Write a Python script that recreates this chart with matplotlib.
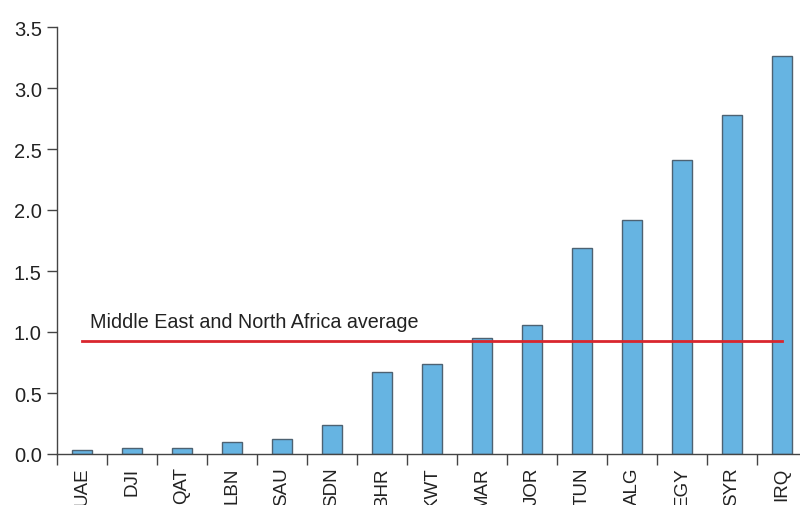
import matplotlib
matplotlib.use("Agg")
import matplotlib.pyplot as plt
import numpy as np

plt.rcParams['font.family'] = ['Liberation Sans', 'DejaVu Sans']

countries = ["UAE", "DJI", "QAT", "LBN", "SAU", "SDN", "BHR", "KWT",
             "MAR", "JOR", "TUN", "ALG", "EGY", "SYR", "IRQ"]
values = [0.03, 0.05, 0.05, 0.10, 0.12, 0.24, 0.67, 0.74,
          0.95, 1.06, 1.69, 1.92, 2.41, 2.78, 3.26]
average = 0.93
avg_label = "Middle East and North Africa average"
yticks = [0.0, 0.5, 1.0, 1.5, 2.0, 2.5, 3.0, 3.5]

fig = plt.figure(figsize=(8, 5.06), dpi=100)
ax = fig.add_axes([57/800, 51/506, 750/800, 427/506])

x = np.arange(len(countries))
ax.bar(x, values, width=0.4, color="#66b4e2", edgecolor="#4d6272", linewidth=1.0, zorder=2)
ax.plot([0.0, 14.0], [average, average], color="#d9262e", lw=2.0, zorder=3)
ax.text(0.15, average + 0.08, avg_label, fontsize=14.2, ha="left", va="bottom", color="#222222")

ax.set_xlim(-0.5, 14.5)
ax.set_ylim(0, 3.5)
ax.set_yticks(yticks)
ax.set_yticklabels([f"{v:.1f}" for v in yticks], fontsize=14.5, color="#222222")

# category boundary ticks
ax.set_xticks(np.arange(-0.5, 15, 1.0))
ax.set_xticklabels([])
ax.set_xticks(x, minor=True)
ax.set_xticklabels(countries, minor=True, rotation=90, fontsize=13.5, color="#222222", va="top", ha="center")
ax.tick_params(axis="x", which="minor", length=0, pad=9)
ax.tick_params(axis="x", which="major", length=8, width=1, color="#444444", direction="out")
ax.tick_params(axis="y", length=7, width=1, color="#444444", direction="out", pad=4)

for s in ["top", "right"]:
    ax.spines[s].set_visible(False)
for s in ["left", "bottom"]:
    ax.spines[s].set_color("#444444")
    ax.spines[s].set_linewidth(1.0)

fig.savefig("out.png", dpi=100)
